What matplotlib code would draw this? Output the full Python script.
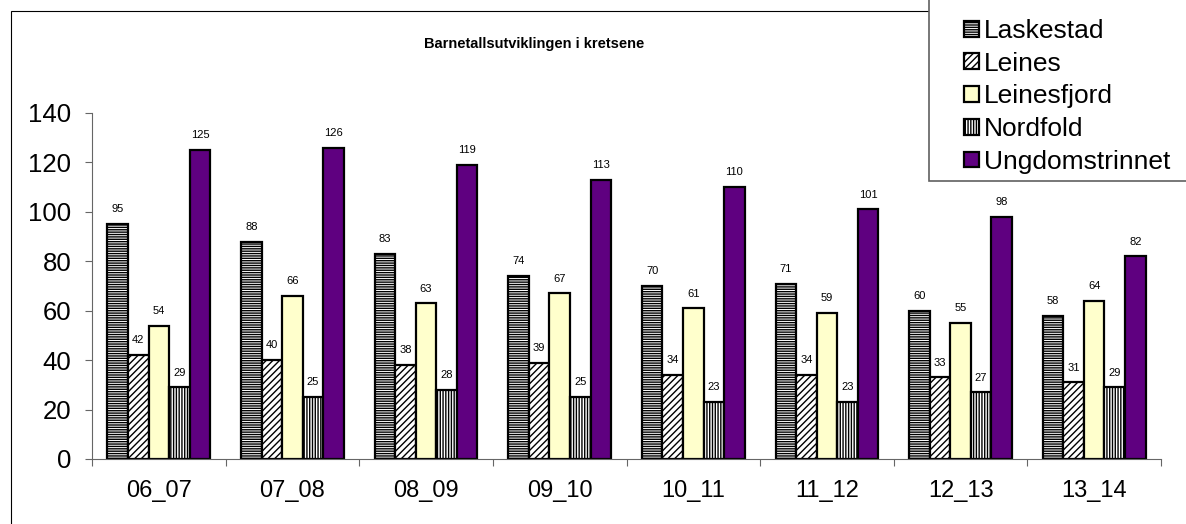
import matplotlib
matplotlib.use('Agg')
import matplotlib.pyplot as plt
from matplotlib.patches import Rectangle
import numpy as np

matplotlib.rc('font', family=['Liberation Sans', 'DejaVu Sans'])
matplotlib.rc('hatch', linewidth=1.0)

seasons = ['06_07', '07_08', '08_09', '09_10', '10_11', '11_12', '12_13', '13_14']
laskestad = [95, 88, 83, 74, 70, 71, 60, 58]
leines = [42, 40, 38, 39, 34, 34, 33, 31]
leinesfjord = [54, 66, 63, 67, 61, 59, 55, 64]
nordfold = [29, 25, 28, 25, 23, 23, 27, 29]
ungdom = [125, 126, 119, 113, 110, 101, 98, 82]

series = [
    ('Laskestad', laskestad, 'white', '-------'),
    ('Leines', leines, 'white', '/////'),
    ('Leinesfjord', leinesfjord, '#FFFFCC', None),
    ('Nordfold', nordfold, 'white', '||||||'),
    ('Ungdomstrinnet', ungdom, '#5F0080', None),
]

W, H = 1186, 524
fig = plt.figure(figsize=(W / 100, H / 100), dpi=100)
ax = fig.add_axes([92 / W, 1 - 459 / H, (1161 - 92) / W, (459 - 113) / H])

w = 1 / 6.5
x = np.arange(len(seasons))
handles = []
for j, (name, vals, color, hatch) in enumerate(series):
    xs = x + 0.75 * w + j * w
    bars = ax.bar(xs, vals, width=w, align='edge', color=color, hatch=hatch,
                  edgecolor='black', linewidth=1.6, label=name)
    handles.append(bars)
    for xi, v in zip(xs, vals):
        ax.annotate(str(v), (xi + w / 2, v), xytext=(0, 7), textcoords='offset points',
                    ha='center', va='bottom', fontsize=8)

ax.set_xlim(0, len(seasons))
ax.set_ylim(0, 140)
ax.set_yticks(range(0, 141, 20))
ax.set_xticks(range(len(seasons) + 1))
ax.set_xticklabels([])
ax.set_xticks(x + 0.5, minor=True)
ax.set_xticklabels(seasons, minor=True)
ax.tick_params(axis='x', which='minor', length=0, labelsize=17, pad=15)
ax.tick_params(axis='x', which='major', length=5, color='#666666', direction='out')
ax.tick_params(axis='y', length=5, color='#666666', labelsize=18.5, pad=10)
for s in ['top', 'right']:
    ax.spines[s].set_visible(False)
for s in ['left', 'bottom']:
    ax.spines[s].set_color('#666666')

fig.text(534 / W, 1 - 44 / H, 'Barnetallsutviklingen i kretsene', ha='center', va='center',
         fontsize=10.5, fontweight='bold')

# outer chart frame
fig.add_artist(Rectangle((11 / W, -0.1), 1.2, 1 - 11 / H + 0.1, transform=fig.transFigure,
                         fill=False, edgecolor='black', linewidth=0.8))
# legend frame
fig.add_artist(Rectangle((929 / W, 1 - 181 / H), 0.3, 0.5, transform=fig.transFigure,
                         facecolor='white', edgecolor='#606060', linewidth=1.2, zorder=3))
leg = fig.legend(handles=handles, loc='upper left', bbox_to_anchor=(964 / W, 1 - 19 / H),
                 frameon=False, fontsize=19, handlelength=0.55, handleheight=0.55,
                 handletextpad=0.2, labelspacing=0.33, borderpad=0, borderaxespad=0)
leg.set_zorder(4)

fig.savefig('out.png', dpi=100)
